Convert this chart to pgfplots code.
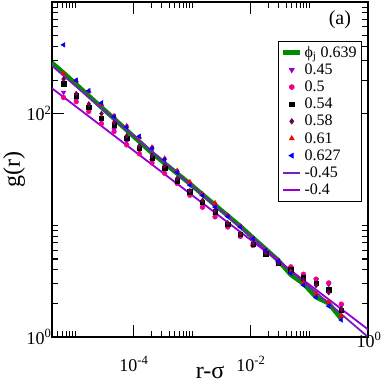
\documentclass[border=0pt]{standalone}
\usepackage{fontspec}
\setmainfont{Liberation Serif}
\newfontfamily\tnr{Liberation Serif}
\usepackage{pgfplots}
\usepackage{pgfplotstable}
\pgfplotsset{compat=1.18}

\definecolor{gGreen}{RGB}{0,139,0}
\definecolor{gIndigo}{RGB}{114,33,188}
\definecolor{gViolet}{RGB}{148,0,211}
\definecolor{gMaroon}{RGB}{103,7,72}

% g(r) vs r-sigma, one column per packing fraction
\pgfplotstableread{
x         s45   s50   s54   s58   s61    s627
6.31e-6   155   139.6 186   204   229    413
1.038e-5  133   128   144.5 151   197    199.5
1.702e-5  107   104.7 113.8 122   158.5  160.3
2.80e-5   87.1  81.3  91.2  100   121    125
4.60e-5   72.4  69.2  79.4  83.2  95.5   94.0
7.55e-5   56.2  52.5  60.3  63.1  77.6   75.9
1.242e-4  46.8  43.7  49.0  51.3  61.7   62.7
2.04e-4   38.0  36.3  39.8  42.2  50.0   49.0
3.36e-4   30.9  29.2  32.4  34.3  39.8   38.9
5.51e-4   24.3  23.7  25.1  26.3  30.9   29.9
9.06e-4   19.1  18.6  20.0  20.4  24.4   22.9
1.489e-3  15.1  14.5  16.2  16.7  19.1   18.5
2.44e-3   12.3  11.9  13.2  13.6  15.85  14.6
4.02e-3   10.0  9.66  10.2  10.5  12.3   12.0
6.61e-3   8.13  7.94  8.32  8.43  9.77   9.66
1.084e-2  6.76  6.61  6.76  6.87  7.67   7.59
1.782e-2  5.56  5.50  5.56  5.62  6.03   5.98
2.93e-2   4.68  4.62  4.57  4.57  4.84   4.79
4.81e-2   4.17  4.25  4.00  3.90  3.80   3.72
7.91e-2   3.55  3.65  3.40  3.25  3.02   2.91
0.130     3.24  3.30  3.05  2.90  2.45   2.28
0.2133    2.95  3.05  2.65  2.50  2.07   1.89
0.3508    1.91  1.97  1.74  1.78  1.54   1.42
}\grdata

\begin{document}
\tnr
\begin{tikzpicture}
  \begin{loglogaxis}[
    scale only axis, width=316pt, height=335pt,
    xmin=4e-6, xmax=1, ymin=1, ymax=1000,
    xtick={1e-4,1e-2,1},
    xticklabels={{10\textsuperscript{-4}},{10\textsuperscript{-2}},{}},
    ytick={1,100},
    yticklabels={{10\textsuperscript{0}},{10\textsuperscript{2}}},
    minor xtick={5e-6,6e-6,7e-6,8e-6,9e-6,1e-5,
                 2e-4,3e-4,4e-4,5e-4,6e-4,7e-4,8e-4,9e-4,1e-3,
                 2e-2,3e-2,4e-2,5e-2,6e-2,7e-2,8e-2,9e-2,1e-1},
    minor ytick={2,3,4,5,6,7,8,9,10,200,300,400,500,600,700,800,900},
    tick align=inside, major tick length=12pt, minor tick length=6pt,
    tick style={black, line width=1.1pt},
    axis line style={line width=1.6pt},
    ticklabel style={font=\tnr\fontsize{18}{18}\selectfont},
    xticklabel style={yshift=-16pt},
    yticklabel style={xshift=3pt},
    xlabel={r-σ}, ylabel={g(r)},
    label style={font=\tnr\fontsize{24}{24}\selectfont},
    xlabel style={at={(axis description cs:0.5,-0.105)}, anchor=center},
    ylabel style={at={(axis description cs:-0.12,0.5)}, anchor=center},
    legend style={at={(0.981,0.884)}, anchor=north east, draw=black,
                  line width=0.8pt, font=\tnr\fontsize{16}{18}\selectfont,
                  cells={anchor=west}, row sep=1pt, inner sep=3pt},
  ]
    \addplot[gGreen, line width=4.5pt, line join=round] coordinates {
      (4e-6,285) (6.31e-6,232) (1.038e-5,183) (1.702e-5,144.5) (2.80e-5,114)
      (4.60e-5,90.2) (7.55e-5,71.1) (1.242e-4,56.2) (2.04e-4,44.4)
      (3.36e-4,35.9) (5.51e-4,29.1) (9.06e-4,23.6) (1.489e-3,18.9)
      (2.44e-3,15.2) (4.02e-3,12.2) (6.61e-3,9.82) (1.084e-2,7.74)
      (1.782e-2,6.14) (2.93e-2,4.86) (4.81e-2,3.6) (7.91e-2,3.0)
      (0.130,2.27) (0.2133,2.0) (0.3508,1.45)};
    \addplot[only marks, gViolet, mark=triangle*, mark size=2.7pt,
             mark options={rotate=180}] table[y=s45] {\grdata};
    \addplot[only marks, magenta, mark=*, mark size=2.4pt] table[y=s50] {\grdata};
    \addplot[only marks, black, mark=square*, mark size=2.2pt] table[y=s54] {\grdata};
    \addplot[only marks, gMaroon, mark=diamond*, mark size=2.6pt] table[y=s58] {\grdata};
    \addplot[only marks, red, mark=triangle*, mark size=2.7pt] table[y=s61] {\grdata};
    \addplot[only marks, blue, mark=triangle*, mark size=2.7pt,
             mark options={rotate=90}] table[y=s627] {\grdata};
    \addplot[gIndigo, line width=1.8pt] coordinates {(4e-6,268.5) (1,1)};
    \addplot[gViolet, line width=1.8pt] coordinates {(4e-6,168.8) (1,1.17)};
    \legend{ϕ\textsubscript{j} 0.639, 0.45, 0.5, 0.54, 0.58, 0.61, 0.627, -0.45, -0.4}
    \node[font=\tnr\fontsize{20}{20}\selectfont] at (rel axis cs:0.911,0.946) {(a)};
  \end{loglogaxis}
  \node[font=\tnr\fontsize{18}{18}\selectfont, anchor=east, inner sep=0pt]
    at (329.5pt,-3pt) {10\textsuperscript{0}};
  \pgfresetboundingbox
  \path (-52pt,-45pt) rectangle (330pt,337pt);
\end{tikzpicture}
\end{document}
